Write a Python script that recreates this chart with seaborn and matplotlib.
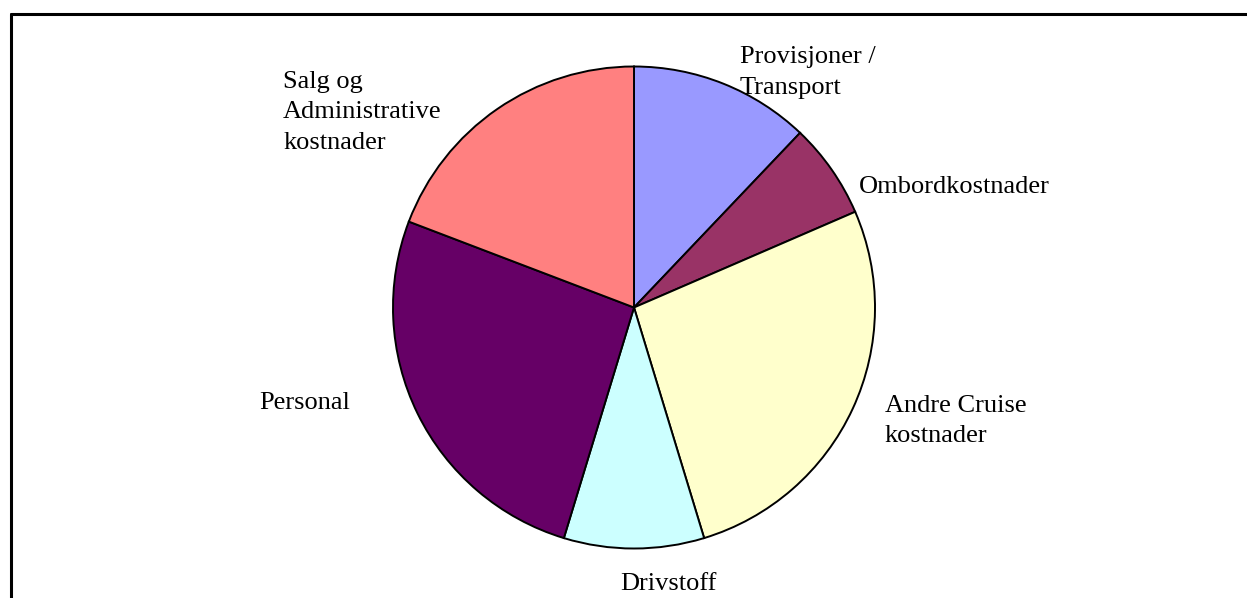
import matplotlib
matplotlib.use("Agg")
import matplotlib.pyplot as plt
from matplotlib.lines import Line2D
import seaborn as sns

sns.set_theme(style="white")
plt.rcParams["font.family"] = ["Liberation Serif", "DejaVu Serif"]

# Cost shares (%) clockwise from 12 o'clock
categories = ["Provisjoner /\nTransport", "Ombordkostnader", "Andre Cruise\nkostnader",
              "Drivstoff", "Personal", "Salg og\nAdministrative\nkostnader"]
shares = [12.1, 6.4, 26.8, 9.4, 26.1, 19.2]
colors = ["#9999FF", "#993366", "#FFFFCC", "#CCFFFF", "#660066", "#FF8080"]

# label anchor positions (in pie-radius units) and horizontal alignment
label_pos = [(0.440, 0.975, "left"), (0.934, 0.50, "left"), (1.041, -0.471, "left"),
             (0.141, -1.147, "center"), (-1.556, -0.396, "left"), (-1.456, 0.811, "left")]

W, H = 1247, 598
fig = plt.figure(figsize=(W / 100, H / 100), dpi=100)
cx, cy, r = 634, 307.5, 241
ax = fig.add_axes([(cx - r) / W, (H - cy - r) / H, 2 * r / W, 2 * r / H])

ax.pie(shares, colors=colors, startangle=90, counterclock=False, radius=1.0,
       wedgeprops=dict(edgecolor="black", linewidth=1.4))
ax.set_xlim(-1, 1)
ax.set_ylim(-1, 1)
ax.set_aspect("equal")
ax.axis("off")

for text, (x, y, ha) in zip(categories, label_pos):
    ax.text(x, y, text, ha=ha, va="center", fontsize=19, color="black",
            linespacing=1.5, clip_on=False)

# chart frame (left and top edges)
fig.add_artist(Line2D([10.5 / W, 1.0], [1 - 13.5 / H, 1 - 13.5 / H], color="black", lw=2.2))
fig.add_artist(Line2D([10.5 / W, 10.5 / W], [0.0, 1 - 13.5 / H], color="black", lw=2.2))

fig.savefig("out.png", dpi=100, facecolor="white")
